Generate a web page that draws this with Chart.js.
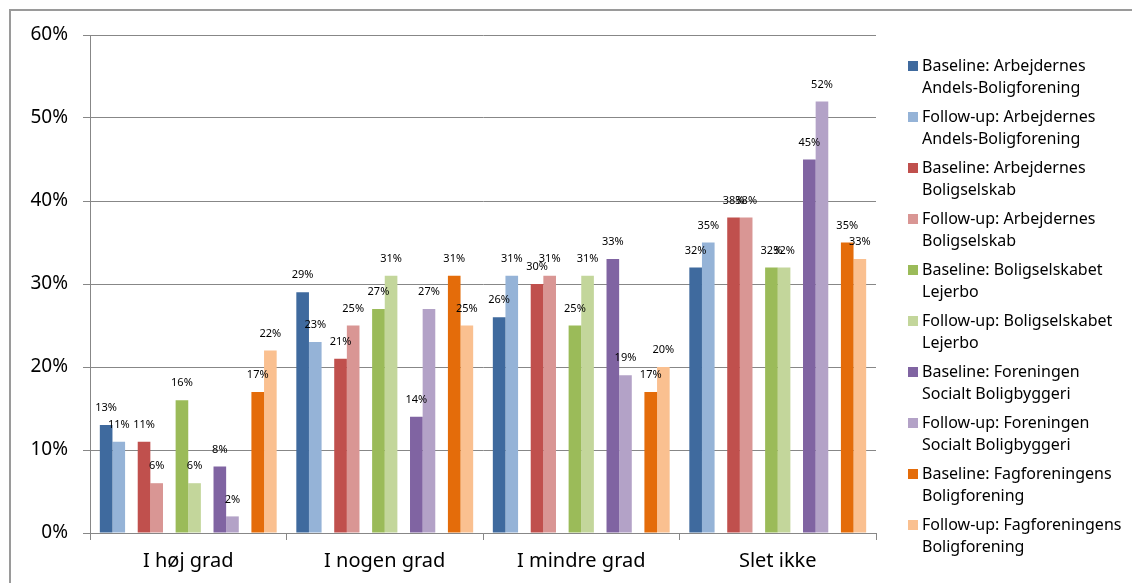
<!DOCTYPE html>
<html>
<head>
<meta charset="utf-8">
<script src="https://cdn.jsdelivr.net/npm/chart.js@4"></script>
<style>
  html, body { margin: 0; padding: 0; background: #fff; }
  #wrap { position: relative; width: 1132px; height: 583px; overflow: hidden; }
  #frame { position: absolute; left: 9px; top: 9px; width: 1200px; height: 700px;
           border-left: 2px solid #9a9a9a; border-top: 2px solid #9a9a9a; }
  canvas { position: absolute; left: 0; top: 0; }
</style>
</head>
<body>
<div id="wrap">
  <div id="frame"></div>
  <canvas id="c" width="1132" height="583"></canvas>
</div>
<script>
const categories = ['I høj grad', 'I nogen grad', 'I mindre grad', 'Slet ikke'];
const yTicks = [0, 10, 20, 30, 40, 50, 60];

const seriesNames = [
  'Baseline: Arbejdernes Andels-Boligforening',
  'Follow-up: Arbejdernes Andels-Boligforening',
  'Baseline: Arbejdernes Boligselskab',
  'Follow-up: Arbejdernes Boligselskab',
  'Baseline: Boligselskabet Lejerbo',
  'Follow-up: Boligselskabet Lejerbo',
  'Baseline: Foreningen Socialt Boligbyggeri',
  'Follow-up: Foreningen Socialt Boligbyggeri',
  'Baseline: Fagforeningens Boligforening',
  'Follow-up: Fagforeningens Boligforening'
];

const baselineABF = [13, 29, 26, 32];
const followupABF = [11, 23, 31, 35];
const baselineAB = [11, 21, 30, 38];
const followupAB = [6, 25, 31, 38];
const baselineLejerbo = [16, 27, 25, 32];
const followupLejerbo = [6, 31, 31, 32];
const baselineFSB = [8, 14, 33, 45];
const followupFSB = [2, 27, 19, 52];
const baselineFB = [17, 31, 17, 35];
const followupFB = [22, 25, 20, 33];

const seriesValues = [baselineABF, followupABF, baselineAB, followupAB, baselineLejerbo,
  followupLejerbo, baselineFSB, followupFSB, baselineFB, followupFB];

const seriesColors = ['#3F6A9E', '#95B3D7', '#C0504D', '#D99694', '#9BBB59',
  '#C3D69B', '#8064A2', '#B3A2C7', '#E46C0A', '#FAC090'];

const GRID = '#878787';
const FONT = '"Noto Sans", "DejaVu Sans", sans-serif';

// Build datasets: pairs separated by an empty spacer slot
const datasets = [];
for (let i = 0; i < seriesValues.length; i++) {
  datasets.push({
    label: seriesNames[i],
    data: seriesValues[i],
    backgroundColor: seriesColors[i],
    borderWidth: 0,
    real: true
  });
  if (i % 2 === 1 && i < seriesValues.length - 1) {
    datasets.push({ label: '', data: categories.map(() => null), backgroundColor: 'rgba(0,0,0,0)', real: false });
  }
}

const labelPlugin = {
  id: 'valueLabels',
  afterDatasetsDraw(chart) {
    const ctx = chart.ctx;
    ctx.save();
    ctx.font = '11px ' + FONT;
    ctx.fillStyle = '#000';
    ctx.textAlign = 'center';
    ctx.textBaseline = 'middle';
    chart.data.datasets.forEach((ds, di) => {
      if (!ds.real) return;
      const meta = chart.getDatasetMeta(di);
      meta.data.forEach((bar, j) => {
        const v = ds.data[j];
        if (v == null) return;
        ctx.fillText(v + '%', bar.x, bar.y - 17);
      });
    });
    ctx.restore();
  }
};

const legendPlugin = {
  id: 'sideLegend',
  afterDraw(chart) {
    const ctx = chart.ctx;
    const x0 = chart.chartArea.right + 32;
    const y0 = 66;
    ctx.save();
    ctx.font = '16px ' + FONT;
    ctx.fillStyle = '#000';
    ctx.textAlign = 'left';
    ctx.textBaseline = 'middle';
    seriesNames.forEach((name, i) => {
      const y = y0 + i * 51;
      const words = name.split(' ');
      const line1 = words.slice(0, 2).join(' ');
      const line2 = words.slice(2).join(' ');
      ctx.fillStyle = seriesColors[i];
      ctx.fillRect(x0, y - 5, 10, 10);
      ctx.fillStyle = '#000';
      ctx.fillText(line1, x0 + 14, y);
      ctx.fillText(line2, x0 + 14, y + 22);
    });
    ctx.restore();
  }
};

new Chart(document.getElementById('c'), {
  type: 'bar',
  data: { labels: categories, datasets: datasets },
  options: {
    responsive: false,
    animation: false,
    layout: { padding: { top: 35, right: 256, left: 0, bottom: 0 } },
    datasets: { bar: { categoryPercentage: 0.9, barPercentage: 1.0 } },
    plugins: { legend: { display: false }, tooltip: { enabled: false } },
    scales: {
      x: {
        afterFit: (s) => { s.height = 50; },
        grid: { display: true, drawOnChartArea: false, drawTicks: true, tickLength: 7, color: GRID, offset: true },
        border: { color: GRID, width: 1 },
        ticks: { color: '#000', font: { family: FONT, size: 20 }, padding: 9, maxRotation: 0 }
      },
      y: {
        min: 0,
        max: 60,
        afterFit: (s) => { s.width = 90; },
        afterBuildTicks: (s) => { s.ticks = yTicks.map(v => ({ value: v })); },
        grid: { color: GRID, lineWidth: 1, drawTicks: true, tickLength: 7, tickColor: GRID },
        border: { color: GRID, width: 1 },
        ticks: { color: '#000', font: { family: FONT, size: 19 }, padding: 15, callback: (v) => v + '%' }
      }
    }
  },
  plugins: [labelPlugin, legendPlugin]
});
</script>
</body>
</html>
